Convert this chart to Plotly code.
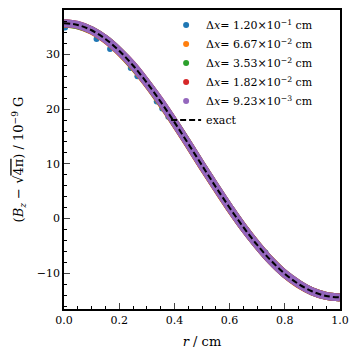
import plotly.graph_objects as go

# radius grid (cm) and exact profile (1e-9 G)
r_exact = [0.00, 0.05, 0.10, 0.15, 0.20, 0.25, 0.30, 0.35, 0.40, 0.45, 0.50,
           0.55, 0.60, 0.65, 0.70, 0.75, 0.80, 0.85, 0.90, 0.95, 1.00]
bz_exact = [35.70, 35.37, 34.40, 32.81, 30.65, 27.97, 24.84, 21.36, 17.62, 13.70, 9.73,
            5.79, 2.00, -1.56, -4.81, -7.66, -10.06, -11.94, -13.30, -14.12, -14.38]

# coarse run (dx = 1.20e-1 cm): visible points
r_coarse = [0.004, 0.118, 0.167, 0.242, 0.266, 0.336, 0.356, 0.378, 0.45, 0.52,
            0.60, 0.66, 0.73, 0.80, 0.86, 0.93, 0.99]
bz_coarse = [34.9, 32.8, 31.0, 27.5, 26.0, 21.4, 20.1, 18.6, 13.5, 8.0,
             1.9, -2.0, -6.2, -10.0, -12.1, -13.9, -14.3]

# finer runs collapse onto the exact curve
r_fine = r_exact
bz_667 = [35.6, 35.3, 34.3, 32.7, 30.5, 27.8, 24.7, 21.2, 17.5, 13.6, 9.6,
          5.7, 1.9, -1.6, -4.8, -7.7, -10.1, -12.0, -13.3, -14.1, -14.4]
bz_353 = [35.7, 35.3, 34.4, 32.8, 30.6, 27.9, 24.8, 21.3, 17.6, 13.7, 9.7,
          5.8, 2.0, -1.6, -4.8, -7.7, -10.1, -11.9, -13.3, -14.1, -14.4]
bz_182 = [35.7, 35.4, 34.4, 32.8, 30.6, 28.0, 24.8, 21.4, 17.6, 13.7, 9.7,
          5.8, 2.0, -1.6, -4.8, -7.7, -10.1, -11.9, -13.3, -14.1, -14.4]
bz_923 = [35.7, 35.4, 34.4, 32.8, 30.6, 28.0, 24.8, 21.4, 17.6, 13.7, 9.7,
          5.8, 2.0, -1.6, -4.8, -7.7, -10.1, -11.9, -13.3, -14.1, -14.4]

labels = ["1.20×10<sup>−1</sup>", "6.67×10<sup>−2</sup>", "3.53×10<sup>−2</sup>",
          "1.82×10<sup>−2</sup>", "9.23×10<sup>−3</sup>"]
colors = ["#1f77b4", "#ff7f0e", "#2ca02c", "#d62728", "#9467bd"]

fig = go.Figure()

# coarse run as dots
fig.add_trace(go.Scatter(x=r_coarse, y=bz_coarse, mode="markers",
                         marker=dict(color=colors[0], size=6), showlegend=False))

# dense runs drawn as thick bands
for vals, c in zip([bz_667, bz_353, bz_182, bz_923], colors[1:]):
    fig.add_trace(go.Scatter(x=r_fine, y=vals, mode="lines", line_shape="spline",
                             line=dict(color=c, width=8), showlegend=False))

# legend entries
for lab, c in zip(labels, colors):
    fig.add_trace(go.Scatter(x=[None], y=[None], mode="markers",
                             marker=dict(color=c, size=6),
                             name="Δ<i>x</i>= " + lab + " cm"))

fig.add_trace(go.Scatter(x=r_exact, y=bz_exact, mode="lines", line_shape="spline",
                         line=dict(color="black", width=2, dash="6px,3px"),
                         name="exact"))

# page body adds ~8px offset, so size the figure to fit what's left
fig.update_layout(
    width=349, height=349,
    margin=dict(l=56, r=17, t=0, b=48),
    paper_bgcolor="white", plot_bgcolor="white",
    font=dict(family="DejaVu Serif", size=11, color="black"),
    legend=dict(x=0.37, y=0.998, xanchor="left", yanchor="top",
                bgcolor="rgba(0,0,0,0)", font=dict(size=11), itemwidth=30),
)
fig.update_xaxes(range=[0, 1], tickvals=[0, 0.2, 0.4, 0.6, 0.8, 1.0],
                 tickformat=".1f", ticks="inside", ticklen=6, tickwidth=1,
                 showline=True, linecolor="black", linewidth=1.5, mirror=True,
                 showgrid=False, zeroline=False,
                 minor=dict(dtick=0.05, ticks="inside", ticklen=3, tickcolor="black"),
                 title=dict(text="<i>r</i> / cm", standoff=11))
fig.update_yaxes(range=[-16.5, 38.1], tickvals=[-10, 0, 10, 20, 30],
                 ticks="inside", ticklen=6, tickwidth=1,
                 showline=True, linecolor="black", linewidth=1.5, mirror=True,
                 showgrid=False, zeroline=False,
                 minor=dict(dtick=2, ticks="inside", ticklen=3, tickcolor="black"),
                 title=dict(text="(<i>B<sub>z</sub></i> − √<span style='text-decoration:overline'>4π</span>) / 10<sup>−9</sup> G",
                            standoff=10))

fig.write_html("out.html")
